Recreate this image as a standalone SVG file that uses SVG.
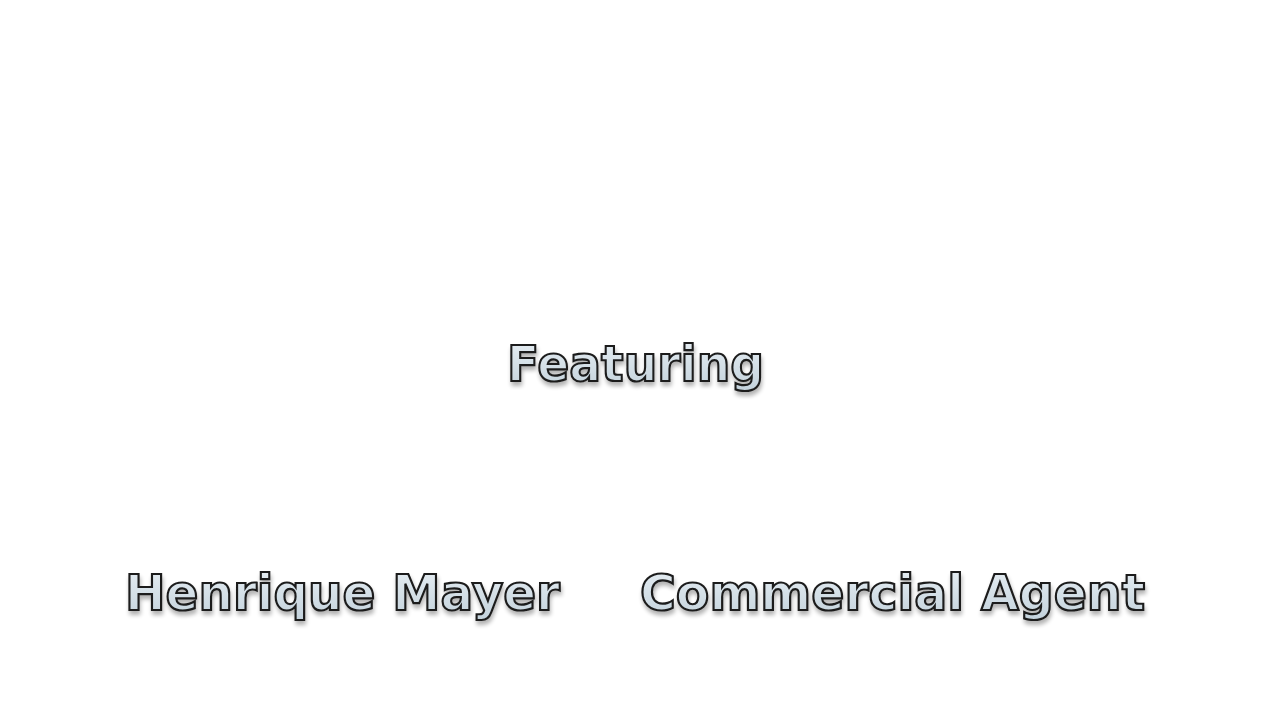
<svg xmlns="http://www.w3.org/2000/svg" width="1280" height="720" viewBox="0 0 1280 720">
<defs>
<linearGradient id="g" x1="0" y1="0" x2="0" y2="1">
<stop offset="0" stop-color="#e8eff4"/>
<stop offset="1" stop-color="#c2d1db"/>
</linearGradient>
<filter id="sh" x="-10%" y="-30%" width="120%" height="180%">
<feGaussianBlur in="SourceAlpha" stdDeviation="2"/>
<feOffset dx="1" dy="4" result="b"/>
<feComponentTransfer><feFuncA type="linear" slope="0.3"/></feComponentTransfer>
<feMerge><feMergeNode/><feMergeNode in="SourceGraphic"/></feMerge>
</filter>
</defs>
<style>
.t{font-family:"DejaVu Sans","Liberation Sans",sans-serif;font-weight:bold;font-size:50px;fill:url(#g);stroke:#1a1a1a;stroke-width:2.2;paint-order:fill;filter:url(#sh)}
</style>
<rect width="1280" height="720" fill="#ffffff"/>
<g id="featuring"><text class="t" x="507" y="381" textLength="257" lengthAdjust="spacingAndGlyphs">Featuring</text></g>
<g id="henrique"><text class="t" x="125" y="610" textLength="435" lengthAdjust="spacingAndGlyphs">Henrique Mayer</text></g>
<g id="commercial"><text class="t" x="640" y="610" textLength="505" lengthAdjust="spacingAndGlyphs">Commercial Agent</text></g>
</svg>
